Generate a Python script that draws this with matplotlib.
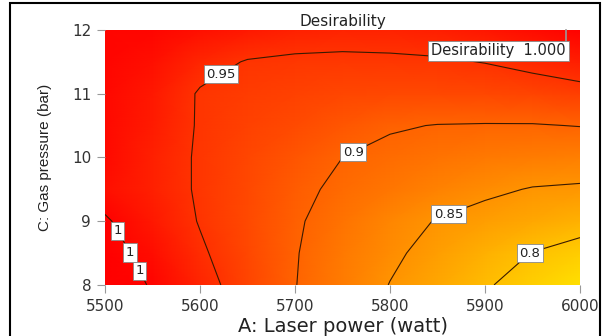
import numpy as np
import matplotlib.pyplot as plt
from matplotlib.colors import LinearSegmentedColormap
from matplotlib.patches import Rectangle

# --- Grid ---
laser_power = [5500, 5550, 5600, 5650, 5700, 5750, 5800, 5850, 5900, 5950, 6000]  # watt
gas_pressure = [8.0, 8.5, 9.0, 9.5, 10.0, 10.5, 11.0, 11.5, 12.0]  # bar

# desirability, one row per gas pressure (bottom to top)
d_8_0 = [1.029, 0.996, 0.964, 0.932, 0.901, 0.875, 0.849, 0.827, 0.804, 0.783, 0.763]
d_8_5 = [1.016, 0.986, 0.955, 0.928, 0.902, 0.879, 0.857, 0.837, 0.818, 0.799, 0.785]
d_9_0 = [1.004, 0.976, 0.948, 0.926, 0.904, 0.885, 0.865, 0.848, 0.837, 0.827, 0.816]
d_9_5 = [0.985, 0.968, 0.946, 0.927, 0.908, 0.893, 0.881, 0.869, 0.857, 0.848, 0.845]
d_10_0 = [0.990, 0.968, 0.946, 0.930, 0.915, 0.900, 0.892, 0.885, 0.879, 0.875, 0.872]
d_10_5 = [0.990, 0.972, 0.947, 0.935, 0.925, 0.914, 0.903, 0.899, 0.898, 0.898, 0.901]
d_11_0 = [0.992, 0.975, 0.947, 0.940, 0.935, 0.930, 0.927, 0.927, 0.929, 0.932, 0.938]
d_11_5 = [0.995, 0.985, 0.962, 0.948, 0.944, 0.943, 0.944, 0.946, 0.951, 0.960, 0.970]
d_12_0 = [0.995, 0.995, 0.985, 0.975, 0.968, 0.965, 0.966, 0.970, 0.978, 0.988, 0.999]

levels = [0.8, 0.85, 0.9, 0.95, 1.0]
# where the contour labels sit
label_spots = [(5947, 8.5), (5858, 9.25), (5757, 10.21), (5617, 11.43),
               (5518, 8.89), (5531, 8.55), (5543, 8.27)]

# optimum flag
opt_power = 5985
opt_pressure = 12.0
opt_desirability = 1.000


def main():
    D = np.array([d_8_0, d_8_5, d_9_0, d_9_5, d_10_0, d_10_5, d_11_0, d_11_5, d_12_0])
    X, Y = np.meshgrid(laser_power, gas_pressure)

    cmap = LinearSegmentedColormap.from_list(
        'desir', [(1.0, 0.89, 0.0), (1.0, 0.47, 0.0), (1.0, 0.0, 0.0)])

    fig = plt.figure(figsize=(6.06, 3.36), dpi=100)
    ax = fig.add_axes([0.1733, 0.152, 0.7838, 0.759])

    ax.pcolormesh(X, Y, np.clip(D, 0, 1), cmap=cmap, vmin=0.76, vmax=1.0,
                  shading='gouraud', rasterized=True)
    cs = ax.contour(X, Y, D, levels=levels, colors='#3a1a00', linewidths=0.8)
    labels = ax.clabel(cs, fmt=lambda v: f'{v:g}', fontsize=9.5, inline=False,
                       manual=label_spots)
    for t in labels:
        t.set_rotation(0)
        t.set_color('#222222')
        t.set_bbox(dict(boxstyle='square,pad=0.2', fc='white', ec='#888888', lw=0.6))
        t.set_zorder(5)

    # optimum flag
    ax.plot([opt_power, opt_power], [opt_pressure, opt_pressure - 0.2],
            color='#999999', lw=1.2, zorder=6, clip_on=False)
    ax.text(opt_power, opt_pressure - 0.33, f'Desirability  {opt_desirability:.3f}',
            ha='right', va='center', fontsize=10.5, color='#222222', zorder=6,
            bbox=dict(boxstyle='square,pad=0.2', fc='white', ec='#888888', lw=0.6))

    ax.set_xlim(5500, 6000)
    ax.set_ylim(8, 12)
    ax.set_xticks(laser_power[::2])
    ax.set_yticks([8, 9, 10, 11, 12])
    ax.tick_params(direction='out', length=6, color='#999999', labelsize=11,
                   labelcolor='#333333', pad=4)
    for s in ax.spines.values():
        s.set_visible(False)

    ax.set_title('Desirability', fontsize=11, color='#222222', pad=3)
    ax.set_xlabel('A: Laser power (watt)', fontsize=14, color='#222222', labelpad=2)
    ax.set_ylabel('C: Gas pressure (bar)', fontsize=11, color='#222222', labelpad=14,
                  family=['Liberation Sans Narrow', 'Liberation Sans', 'DejaVu Sans'])

    # outer frame
    fig.patches.append(Rectangle((10 / 606, -0.02), 590 / 606, 1 - 3 / 336 + 0.02,
                                 transform=fig.transFigure, fill=False,
                                 ec='black', lw=1.5))

    fig.savefig('out.png', dpi=100)


if __name__ == '__main__':
    main()
